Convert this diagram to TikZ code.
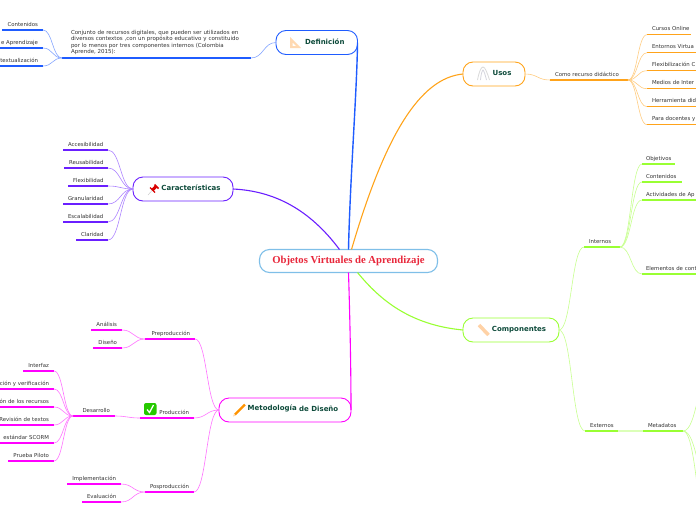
\documentclass[tikz,border=0pt]{standalone}
\usepackage{fontspec}
\usetikzlibrary{calc}
\setmainfont{DejaVu Sans}
\newfontfamily\titlefont{Liberation Serif}
\definecolor{azul}{HTML}{1F5CFF}
\definecolor{morado}{HTML}{6A1FFF}
\definecolor{naranja}{HTML}{FFA31A}
\definecolor{verde}{HTML}{99FF33}
\definecolor{magenta}{HTML}{FF00FF}
\definecolor{celeste}{HTML}{7FBFE8}
\definecolor{tinta}{HTML}{0D4A3A}
\definecolor{rojo}{HTML}{E8273B}
\definecolor{gris}{HTML}{333333}
\begin{document}
\begin{tikzpicture}[x=1pt,y=-1pt,inner sep=0pt,outer sep=0pt,
tema/.style={draw=#1,rounded corners=10pt,minimum height=24pt,line width=.9pt,text=tinta,text height=4.8pt,text depth=1.6pt,
  font=\fontsize{7}{8}\selectfont\bfseries,execute at begin node={\hspace*{16pt}}},
linea/.style={append after command={(\tikzlastnode.south west) edge[draw=#1,line width=1.4pt] (\tikzlastnode.south east)}},
hojaL/.style 2 args={linea=#1,anchor=south east,text width=#2 pt,align=right,inner xsep=5pt,inner ysep=2.8pt,
  text height=4.5pt,text depth=1.2pt,text=gris,font=\fontsize{5.4}{6.6}\selectfont},
hojaR/.style 2 args={linea=#1,anchor=south west,text width=#2 pt,align=left,inner xsep=5pt,inner ysep=2.8pt,
  text height=4.5pt,text depth=1.2pt,text=gris,font=\fontsize{5.4}{6.6}\selectfont},
rama/.style={draw=#1!55!white,line width=.6pt,
  to path={let \p1=(\tikztostart),\p2=(\tikztotarget) in .. controls ({.5*\x1+.5*\x2},\y1) and ({.5*\x1+.5*\x2},\y2) .. (\tikztotarget)}},
tronco/.style={draw=#1,line width=1.1pt}]
\useasboundingbox (0,0) rectangle (696,520);
\clip (0,0) rectangle (696,520);
% centro y temas
\node[draw=celeste,rounded corners=10pt,line width=1.1pt,minimum width=178pt,minimum height=23pt,text=rojo,
  font=\titlefont\fontsize{10.7}{12}\selectfont\bfseries] (central) at (348.5,261) {Objetos Virtuales de Aprendizaje};
\node[tema=azul,minimum width=81.5pt] (defin) at (316.75,42.5) {Definición};
\node[tema=morado,minimum width=100pt] (carac) at (183,189) {Características};
\node[tema=magenta,minimum width=132pt] (metod) at (285,410) {\raisebox{1pt}{Metodología} de Diseño};
\node[tema=naranja,minimum width=62pt] (usos) at (494,74) {Usos};
\node[tema=verde,minimum width=96pt] (compo) at (511,330) {Componentes};
\draw[tronco=azul,line width=1.4pt] (central.north) .. controls (350,180) and (357,90) .. (defin.east);
\draw[tronco=morado] ([xshift=-9pt]central.north) .. controls (310,210) and (275,191) .. (carac.east);
\draw[tronco=naranja] ([xshift=3pt]central.north) .. controls (385,135) and (420,78) .. (usos.west);
\draw[tronco=verde] ([xshift=9pt]central.south) .. controls (380,300) and (410,325) .. (compo.west);
\draw[tronco=magenta] (central.south) .. controls (350,320) and (351,370) .. (metod.east);
% definicion
\node[linea=azul,anchor=south east,text width=171pt,align=left,inner xsep=9pt,inner ysep=3pt,text=gris,
  font=\fontsize{5.5}{6.6}\selectfont] (conj) at (251,58) {Conjunto de recursos digitales, que pueden ser utilizados en\\
  diversos contextos ,con un propósito educativo y constituido\\
  por lo menos por tres componentes internos (Colombia\\
  Aprende, 2015):};
\node[hojaL={azul}{31}] (cont) at (43,30) {Contenidos};
\node[hojaL={azul}{38}] (apre) at (43,48) {e Aprendizaje};
\node[hojaL={azul}{38}] (ctxt) at (43,66) {textualización};
\draw[rama=azul] (defin.west) to (conj.south east);
\draw[rama=azul] (conj.south west) to (cont.south east);
\draw[rama=azul] (conj.south west) to (apre.south east);
\draw[rama=azul] (conj.south west) to (ctxt.south east);
% caracteristicas
\node[hojaL={morado}{35}] (acce) at (108,150) {Accesibilidad};
\node[hojaL={morado}{34}] (reus) at (108,168) {Reusabilidad};
\node[hojaL={morado}{30}] (flex) at (108,186) {Flexibilidad};
\node[hojaL={morado}{35}] (gran) at (108,204) {Granularidad};
\node[hojaL={morado}{35}] (esca) at (108,222) {Escalabilidad};
\node[hojaL={morado}{22}] (clar) at (108,240) {Claridad};
\draw[rama=morado] (carac.west) to (acce.south east);
\draw[rama=morado] (carac.west) to (reus.south east);
\draw[rama=morado] (carac.west) to (flex.south east);
\draw[rama=morado] (carac.west) to (gran.south east);
\draw[rama=morado] (carac.west) to (esca.south east);
\draw[rama=morado] (carac.west) to (clar.south east);
% metodologia
\node[hojaL={magenta}{40}] (prep) at (195,339) {Preproducción};
\node[hojaL={magenta}{44}] (prod) at (194,418) {Producción};
\node[hojaL={magenta}{39}] (posp) at (194,492) {Posproducción};
\node[hojaL={magenta}{21}] (anal) at (122,330) {Análisis};
\node[hojaL={magenta}{19}] (dise) at (122,348) {Diseño};
\node[hojaL={magenta}{32}] (desa) at (115,416) {Desarrollo};
\node[hojaL={magenta}{44}] (impl) at (121,484) {Implementación};
\node[hojaL={magenta}{29}] (eval) at (121,502) {Evaluación};
\node[hojaL={magenta}{21}] (inte) at (54,371) {Interfaz};
\node[hojaL={magenta}{54}] (veri) at (54,389) {ción y verificación};
\node[hojaL={magenta}{54}] (recu) at (54,407) {ón de los recursos};
\node[hojaL={magenta}{54}] (revi) at (54,425) {Revisión de textos};
\node[hojaL={magenta}{54}] (scor) at (54,443) {estándar SCORM};
\node[hojaL={magenta}{36}] (pilo) at (54,461) {Prueba Piloto};
\draw[rama=magenta] (metod.west) to (prep.south east);
\draw[rama=magenta] (metod.west) to (prod.south east);
\draw[rama=magenta] (metod.west) to (posp.south east);
\draw[rama=magenta] (prep.south west) to (anal.south east);
\draw[rama=magenta] (prep.south west) to (dise.south east);
\draw[rama=magenta] (prod.south west) to (desa.south east);
\draw[rama=magenta] (posp.south west) to (impl.south east);
\draw[rama=magenta] (posp.south west) to (eval.south east);
\draw[rama=magenta] (desa.south west) to (inte.south east);
\draw[rama=magenta] (desa.south west) to (veri.south east);
\draw[rama=magenta] (desa.south west) to (recu.south east);
\draw[rama=magenta] (desa.south west) to (revi.south east);
\draw[rama=magenta] (desa.south west) to (scor.south east);
\draw[rama=magenta] (desa.south west) to (pilo.south east);
% usos
\node[hojaR={naranja}{68}] (como) at (550,80) {Como recurso didáctico};
\node[hojaR={naranja}{34}] (curs) at (647,34.7) {\mbox{Cursos Online}};
\node[hojaR={naranja}{60}] (ento) at (647,52.7) {Entornos Virtua};
\node[hojaR={naranja}{60}] (flxc) at (647,70.7) {Flexibilización C};
\node[hojaR={naranja}{60}] (medi) at (647,88.7) {Medios de Inter};
\node[hojaR={naranja}{60}] (herr) at (647,106.7) {Herramienta did};
\node[hojaR={naranja}{60}] (para) at (647,124.7) {Para docentes y};
\draw[rama=naranja] (usos.east) to (como.south west);
\draw[rama=naranja] (como.south east) to (curs.south west);
\draw[rama=naranja] (como.south east) to (ento.south west);
\draw[rama=naranja] (como.south east) to (flxc.south west);
\draw[rama=naranja] (como.south east) to (medi.south west);
\draw[rama=naranja] (como.south east) to (herr.south west);
\draw[rama=naranja] (como.south east) to (para.south west);
% componentes
\node[hojaR={verde}{26}] (inter) at (584,247) {Internos};
\node[hojaR={verde}{23}] (exte) at (585,431) {Externos};
\node[hojaR={verde}{30}] (meta) at (643,431) {Metadatos};
\node[hojaR={verde}{25},inner xsep=4pt] (obje) at (642,164) {Objetivos};
\node[hojaR={verde}{32},inner xsep=4pt] (cntd) at (642,182) {Contenidos};
\node[hojaR={verde}{60},inner xsep=4pt] (acti) at (642,200) {Actividades de Ap};
\node[hojaR={verde}{60},inner xsep=4pt] (elem) at (642,274) {Elementos de cont};
\coordinate (meta1) at (712,370);
\coordinate (meta2) at (712,489);
\coordinate (meta3) at (712,545);
\draw[rama=verde] (compo.east) to (inter.south west);
\draw[rama=verde] (compo.east) to (exte.south west);
\draw[draw=verde!35!white,line width=1.4pt] (exte.south east) -- (meta.south west);
\draw[rama=verde] (inter.south east) to (obje.south west);
\draw[rama=verde] (inter.south east) to (cntd.south west);
\draw[rama=verde] (inter.south east) to (acti.south west);
\draw[rama=verde] (inter.south east) to (elem.south west);
\draw[rama=verde] (meta.south east) to (meta1);
\draw[rama=verde] (meta.south east) to (meta2);
\draw[rama=verde] (meta.south east) to (meta3);
% iconos
\fill[fill=orange!30!white,even odd rule] (290,37) -- (301,48) -- (290,48) -- cycle (292.5,42.5) -- (296,46) -- (292.5,46) -- cycle;
\draw[gray!30,line width=.8pt] (477.5,80) .. controls (479,72) and (481,67) .. (483,67) .. controls (485,67) and (487,72) .. (489.5,80);
\draw[blue!12!gray!30,line width=.8pt] (480.5,80) .. controls (481,74) and (482,71) .. (483,70) .. controls (484,71) and (485,74) .. (486.5,80);
\draw[gray!40,line width=.5pt] (148,195) -- (152,190.5);
\draw[red!85!black,line width=3pt] (152.5,190) -- (156,186.5);
\draw[red!85!black,line width=1.2pt] (150,187.5) -- (155,192.5);
\draw[red!85!black,line width=1.5pt] (154.5,184.5) -- (158.5,188.5);
\draw[orange!35!white,line width=3.5pt] (479,325) -- (488.5,335);
\draw[orange!85!yellow,line width=2.2pt] (235,414.5) -- (245,404.5);
\fill[orange!30!white] (233,416.5) -- (234,413.5) -- (236,415.5) -- cycle;
\fill[green!75!black!85!yellow,rounded corners=2pt] (144,403) rectangle (156.5,415);
\draw[white,line width=1.3pt] (147,409.5) -- (149.5,412.5) -- (153.5,405);
\end{tikzpicture}
\end{document}
